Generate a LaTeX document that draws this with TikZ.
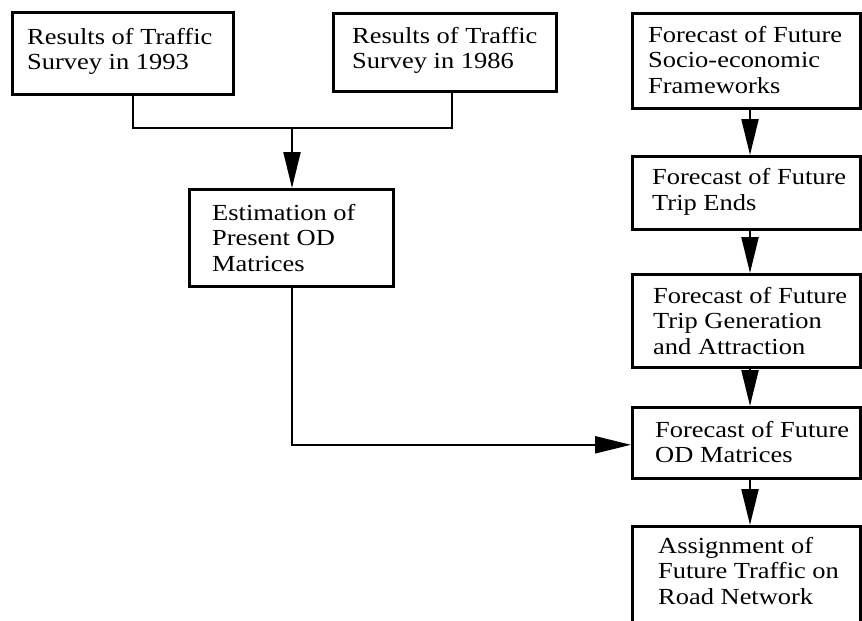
\documentclass[tikz,border=0pt]{standalone}
\usepackage{fontspec}
\setmainfont[FakeStretch=1.15]{Liberation Serif}
\usetikzlibrary{arrows.meta,calc}
\tikzset{
  box/.style={draw=black, line width=2.6pt, rectangle, anchor=north west, inner sep=0pt},
  txt/.style={anchor=west, align=left, inner sep=0pt, font=\fontsize{23pt}{25.5pt}\selectfont},
  conn/.style={draw=black, line width=2.2pt},
  arr/.style={conn, -{Triangle[length=36pt,width=17pt]}}
}
\begin{document}
\begin{tikzpicture}[x=1pt,y=1pt]
\useasboundingbox (0,0) rectangle (862,-621);
\clip (0,0) rectangle (862,-621);
% boxes
\node[box, minimum width=221pt, minimum height=82pt] (b1) at (11,-11) {};
\node[box, minimum width=223pt, minimum height=78pt] (b2) at (332,-12) {};
\node[box, minimum width=228pt, minimum height=95pt] (b3) at (631,-12) {};
\node[box, minimum width=204pt, minimum height=97pt] (b4) at (188,-188) {};
\node[box, minimum width=228pt, minimum height=73pt] (b5) at (631,-155) {};
\node[box, minimum width=228pt, minimum height=93pt] (b6) at (631,-273) {};
\node[box, minimum width=228pt, minimum height=71pt] (b7) at (631,-406) {};
\node[box, minimum width=228pt, minimum height=130pt] (b8) at (631,-525) {};
% texts
\node[txt] (t1) at ([xshift=16pt,yshift=2pt]b1.west) {Results of Traffic\\Survey in 1993};
\node[txt] (t2) at ([xshift=20pt,yshift=2pt]b2.west) {Results of Traffic\\Survey in 1986};
\node[txt] (t3) at ([xshift=17pt,yshift=1pt]b3.west) {Forecast of Future\\Socio-economic\\Frameworks};
\node[txt] (t4) at ([xshift=24pt]b4.west) {Estimation of\\Present OD\\Matrices};
\node[txt] (t5) at ([xshift=21pt,yshift=1pt]b5.west) {Forecast of Future\\Trip Ends};
\node[txt] (t6) at ([xshift=22pt]b6.west) {Forecast of Future\\Trip Generation\\and Attraction};
\node[txt] (t7) at ([xshift=24pt,yshift=1pt]b7.west) {Forecast of Future\\OD Matrices};
\node[txt, anchor=north west] (t8) at ([xshift=27pt,yshift=-12pt]b8.north west) {Assignment of\\Future Traffic on\\Road Network};
% connectors
\coordinate (j) at (292,-128);
\coordinate (col) at (750,0);
\draw[conn] ([xshift=10.5pt]b1.south) |- (j);
\draw[conn] ([xshift=7.5pt]b2.south) |- (j);
\draw[arr] (j) -- (j |- b4.north);
\draw[arr] (j |- b4.south) |- ([yshift=-2pt]b7.west);
\draw[arr] (col |- b3.south) -- (col |- b5.north);
\draw[arr] (col |- b5.south) -- (col |- b6.north);
\draw[arr] (col |- b6.south) -- (col |- b7.north);
\draw[arr] (col |- b7.south) -- (col |- b8.north);
\end{tikzpicture}
\end{document}
